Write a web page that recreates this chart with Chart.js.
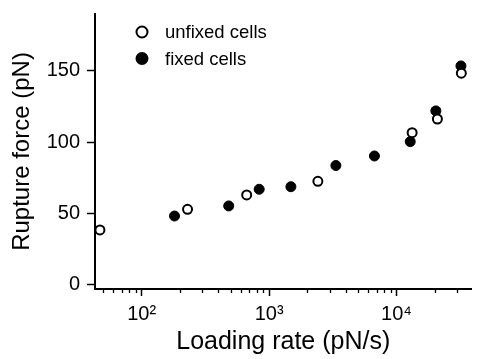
<!DOCTYPE html>
<html lang="en">
<head>
    <meta charset="UTF-8">
    <title>Rupture force vs loading rate</title>
    <script src="https://cdn.jsdelivr.net/npm/chart.js"></script>
    <style>
        html, body { margin: 0; padding: 0; background: #fff; }
        #wrap { width: 478px; height: 359px; position: relative; }
    </style>
</head>
<body>
    <div id="wrap">
        <canvas id="forceChart"></canvas>
    </div>

    <script>
        // Data (loading rate in pN/s, force in pN)
        const unfixedRate  = [47, 229, 667, 2415, 13270, 20950, 32290];
        const unfixedForce = [38.2, 52.7, 62.8, 72.4, 106.6, 116.2, 148.4];
        const fixedRate    = [181, 482, 836, 1483, 3344, 6714, 12820, 20370, 32060];
        const fixedForce   = [48.0, 55.1, 66.8, 68.6, 83.5, 90.2, 100.3, 121.9, 153.5];

        const seriesNames = ['unfixed cells', 'fixed cells'];
        const yTicks = [0, 50, 100, 150];
        const xMajor = [100, 1000, 10000];
        const xMajorLabels = ['10\u00B2', '10\u00B3', '10\u2074'];
        const xMinor = [50, 60, 70, 80, 90,
                        200, 300, 400, 500, 600, 700, 800, 900,
                        2000, 3000, 4000, 5000, 6000, 7000, 8000, 9000,
                        20000, 30000];

        const toPoints = (xs, ys) => xs.map((x, i) => ({ x: x, y: ys[i] }));
        const font = '"Liberation Sans", Arial, Helvetica, sans-serif';

        // short minor ticks on the log axis
        const minorTicks = {
            id: 'minorTicks',
            afterDraw(chart) {
                const sx = chart.scales.x;
                const ctx = chart.ctx;
                ctx.save();
                ctx.strokeStyle = '#000';
                ctx.lineWidth = 1.3;
                ctx.beginPath();
                xMinor.forEach(v => {
                    const px = Math.round(sx.getPixelForValue(v)) + 0.5;
                    ctx.moveTo(px, sx.top);
                    ctx.lineTo(px, sx.top + 4);
                });
                ctx.stroke();
                ctx.restore();
            }
        };

        // legend in the upper left of the plot
        const innerLegend = {
            id: 'innerLegend',
            afterDraw(chart) {
                const ctx = chart.ctx;
                const area = chart.chartArea;
                ctx.save();
                ctx.font = '18.5px ' + font;
                ctx.textBaseline = 'middle';
                chart.data.datasets.forEach((ds, i) => {
                    const cx = area.left + 47;
                    const cy = area.top + 18 + i * 26.5;
                    ctx.beginPath();
                    ctx.arc(cx, cy, 5.5, 0, Math.PI * 2);
                    ctx.fillStyle = ds.backgroundColor;
                    ctx.fill();
                    ctx.lineWidth = 2;
                    ctx.strokeStyle = '#000';
                    ctx.stroke();
                    ctx.fillStyle = '#000';
                    ctx.fillText(ds.label, cx + 23, cy + 1);
                });
                ctx.restore();
            }
        };

        const ctx = document.getElementById('forceChart').getContext('2d');
        const forceChart = new Chart(ctx, {
            type: 'scatter',
            data: {
                datasets: [{
                    label: seriesNames[0],
                    data: toPoints(unfixedRate, unfixedForce),
                    backgroundColor: '#fff',
                    borderColor: '#000',
                    borderWidth: 2,
                    pointRadius: 4.5,
                }, {
                    label: seriesNames[1],
                    data: toPoints(fixedRate, fixedForce),
                    backgroundColor: '#000',
                    borderColor: '#000',
                    borderWidth: 1,
                    pointRadius: 5,
                }]
            },
            options: {
                responsive: true,
                maintainAspectRatio: false,
                animation: false,
                layout: { padding: { top: 14, right: 0, left: 0, bottom: 0 } },
                plugins: {
                    legend: { display: false },
                    tooltip: { enabled: false }
                },
                scales: {
                    x: {
                        type: 'logarithmic',
                        min: 43,
                        max: 38800,
                        afterBuildTicks: s => { s.ticks = xMajor.map(v => ({ value: v })); },
                        afterFit: s => {
                            s.height = 70;
                            s.paddingLeft = 0;
                            s.paddingRight = 0;
                        },
                        border: { display: true, color: '#000', width: 2 },
                        grid: {
                            drawOnChartArea: false,
                            drawTicks: true,
                            tickLength: 7,
                            tickWidth: 1.5,
                            tickColor: '#000'
                        },
                        ticks: {
                            autoSkip: false,
                            maxRotation: 0,
                            padding: 6,
                            color: '#000',
                            font: { family: font, size: 20 },
                            callback: v => {
                                const i = xMajor.indexOf(v);
                                return i >= 0 ? xMajorLabels[i] : '';
                            }
                        },
                        title: {
                            display: true,
                            text: 'Loading rate (pN/s)',
                            color: '#000',
                            font: { family: font, size: 25 },
                            padding: { top: 0, bottom: 2 }
                        }
                    },
                    y: {
                        min: -3.3,
                        max: 190,
                        afterBuildTicks: s => { s.ticks = yTicks.map(v => ({ value: v })); },
                        afterFit: s => {
                            s.width = 95;
                            s.paddingTop = 0;
                            s.paddingBottom = 0;
                        },
                        border: { display: true, color: '#000', width: 2 },
                        grid: {
                            drawOnChartArea: false,
                            drawTicks: true,
                            tickLength: 8,
                            tickWidth: 1.5,
                            tickColor: '#000'
                        },
                        ticks: {
                            padding: 7,
                            color: '#000',
                            font: { family: font, size: 20 }
                        },
                        title: {
                            display: true,
                            text: 'Rupture force (pN)',
                            color: '#000',
                            font: { family: font, size: 24 },
                            padding: { top: 8, bottom: 0 }
                        }
                    }
                }
            },
            plugins: [minorTicks, innerLegend]
        });
    </script>
</body>
</html>
